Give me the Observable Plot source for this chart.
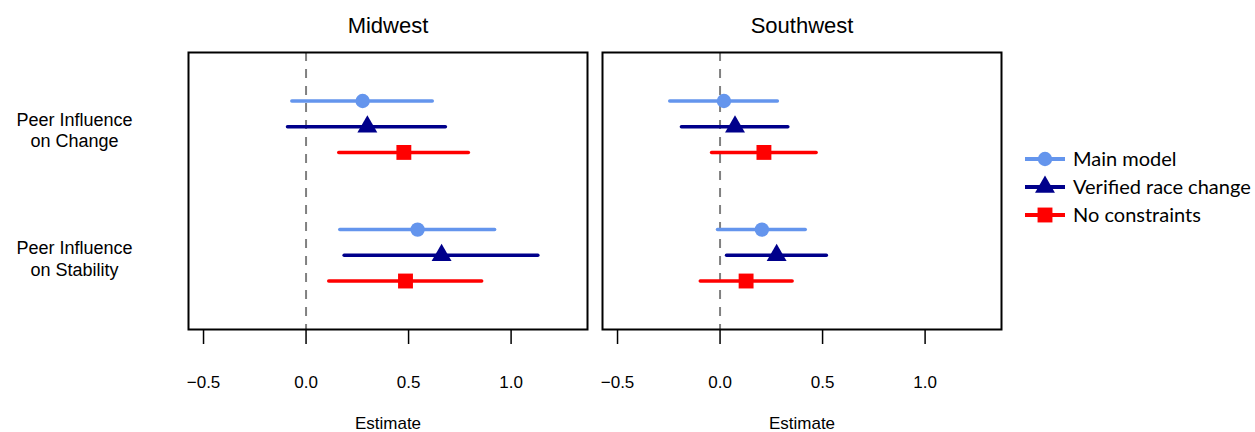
<!DOCTYPE html>
<html>
<head>
<meta charset="utf-8">
<script src="https://cdn.jsdelivr.net/npm/d3@7"></script>
<script src="https://cdn.jsdelivr.net/npm/@observablehq/plot@0.6"></script>
<style>
  html, body { margin: 0; padding: 0; background: #fff; }
  #wrap { position: relative; width: 1255px; height: 432px; }
  #legend { position: absolute; left: 0; top: 0; }
</style>
</head>
<body>
<div id="wrap"><div id="chart"></div><svg id="legend" width="1255" height="432"></svg></div>
<script>
// ---- data ----
const regions = ["Midwest", "Southwest"];
const outcomes = ["Peer Influence\non Change", "Peer Influence\non Stability"];
const models = ["Main model", "Verified race change", "No constraints"];
const xTicks = [-0.5, 0, 0.5, 1.0];

// order: [Change: main, verified, none], [Stability: main, verified, none]
const midwestEst   = [0.276, 0.299, 0.477, 0.544, 0.661, 0.485];
const midwestLo    = [-0.067, -0.088, 0.162, 0.167, 0.188, 0.113];
const midwestHi    = [0.618, 0.682, 0.794, 0.922, 1.133, 0.859];
const southwestEst = [0.019, 0.073, 0.214, 0.204, 0.276, 0.127];
const southwestLo  = [-0.243, -0.186, -0.039, -0.010, 0.034, -0.094];
const southwestHi  = [0.282, 0.333, 0.471, 0.418, 0.521, 0.354];

// ---- styles ----
const colors = ["#6495ED", "#00008B", "#FF0000"];
const symbols = ["circle", "triangle", "square"];
const markerR = [7.2, 7.4, 8.4];
const font = "'Liberation Sans', Arial, Helvetica, sans-serif";

// ---- table ----
const series = {
  Midwest: [midwestEst, midwestLo, midwestHi],
  Southwest: [southwestEst, southwestLo, southwestHi]
};
const table = [];
regions.forEach(region => {
  const [est, lo, hi] = series[region];
  outcomes.forEach((outcome, oi) => {
    models.forEach((model, mi) => {
      const k = oi * models.length + mi;
      table.push({region, outcome, model, est: est[k], lo: lo[k], hi: hi[k],
        pos: (oi + 1) + (mi - 1) * 0.2});
    });
  });
});

const chart = Plot.plot({
  width: 1255,
  height: 432,
  marginTop: 52,
  marginBottom: 103,
  marginLeft: 188,
  marginRight: 253,
  style: {fontFamily: font, background: "white", color: "black"},
  fx: {domain: regions, paddingInner: 0.0362, paddingOuter: 0, label: null, axis: null},
  x: {domain: [-0.5733, 1.3726], label: null, axis: null},
  y: {domain: [0.423, 2.577], reverse: true, label: null, axis: null},
  color: {domain: models, range: colors},
  symbol: {domain: models, range: symbols},
  marks: [
    Plot.ruleX([0], {stroke: "#808080", strokeWidth: 2, strokeDasharray: "9,8"}),
    ...models.map((m, i) => Plot.ruleY(table.filter(d => d.model === m), {
      fx: "region", y: "pos", x1: "lo", x2: "hi", stroke: "model",
      strokeWidth: 3.5, strokeLinecap: "round"
    })),
    ...models.map((m, i) => Plot.dot(table.filter(d => d.model === m), {
      fx: "region", x: "est", y: "pos", fill: "model", symbol: "model",
      r: markerR[i], stroke: null
    })),
    Plot.frame({stroke: "black", strokeWidth: 2}),
    Plot.axisX({ticks: xTicks, tickFormat: d3.format(".1f"), tickSize: 15,
      tickPadding: 31, fontSize: 17, strokeWidth: 1.5, label: null}),
    Plot.axisFx({anchor: "top", tickSize: 0, tickPadding: 20, fontSize: 22, label: null}),
    Plot.axisY({ticks: [1, 2], tickFormat: v => outcomes[v - 1], tickSize: 0,
      tickPadding: 114, textAnchor: "middle", fontSize: 18, lineHeight: 1.2,
      dy: 3, label: null}),
    Plot.text(["Estimate"], {frameAnchor: "bottom", dy: 99.5, lineAnchor: "bottom",
      fontSize: 17})
  ]
});
document.getElementById("chart").appendChild(chart);

// ---- legend ----
const lg = d3.select("#legend");
const symMap = {circle: d3.symbolCircle, triangle: d3.symbolTriangle, square: d3.symbolSquare};
const lx0 = 1025, lx1 = 1065, ly0 = 159, lstep = 28;
models.forEach((m, i) => {
  const y = ly0 + i * lstep;
  lg.append("line").attr("x1", lx0).attr("x2", lx1).attr("y1", y).attr("y2", y)
    .attr("stroke", colors[i]).attr("stroke-width", 4);
  lg.append("path")
    .attr("d", d3.symbol(symMap[symbols[i]], Math.PI * markerR[i] * markerR[i])())
    .attr("transform", `translate(${(lx0 + lx1) / 2},${y})`)
    .attr("fill", colors[i]);
  lg.append("text").attr("x", 1073).attr("y", y + 7)
    .attr("font-family", "Lato, 'Open Sans', sans-serif").attr("font-size", 20)
    .attr("fill", "black").text(m);
});
</script>
</body>
</html>
